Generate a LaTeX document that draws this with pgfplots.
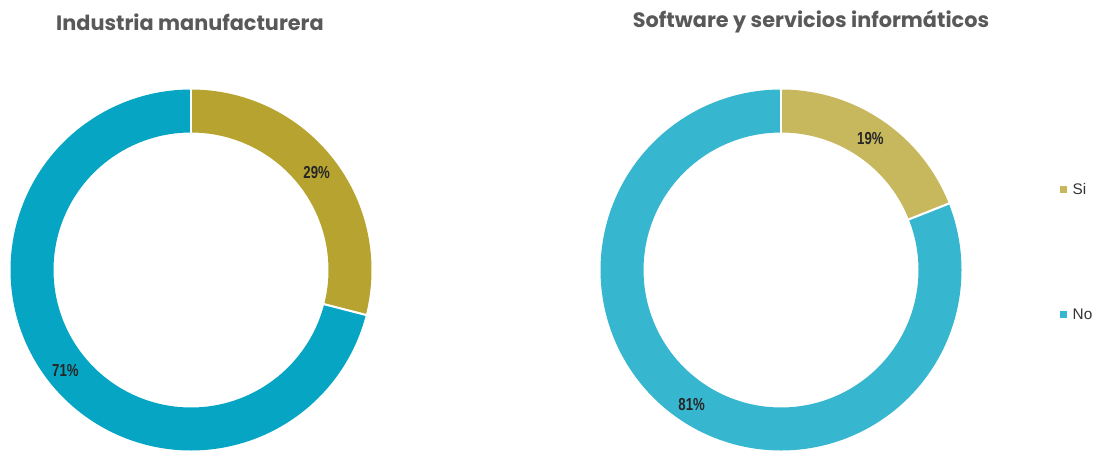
\documentclass[border=0pt]{standalone}
\usepackage{fontspec}
\setmainfont{Liberation Sans}
\newfontfamily\titlefont{Poppins}
\newfontfamily\narrowfont{Liberation Sans}[FakeStretch=0.76]
\usepackage{pgfplots}
\pgfplotsset{compat=1.18}

\definecolor{siA}{HTML}{B7A430}
\definecolor{noA}{HTML}{05A5C3}
\definecolor{siB}{HTML}{C8B85D}
\definecolor{noB}{HTML}{37B6CF}
\definecolor{titlegray}{HTML}{595959}

% share of "Si" answers (%) per sector
\def\siManu{29}
\def\siSoft{19}

\tikzset{
  pct/.style={font=\narrowfont\bfseries\fontsize{13}{13}\selectfont, text=black!85},
  ttl/.style={font=\titlefont\bfseries\fontsize{15.6}{16}\selectfont, text=titlegray},
  leg/.style={font=\fontsize{11.5}{11.5}\selectfont, text=black!80, anchor=west},
}

% #1 centre x, #2 share of Si, #3 colour Si, #4 colour No
\newcommand\donut[4]{%
  \pgfmathsetmacro\aEnd{90-#2*3.6}
  \addplot[#3, line width=32.25pt, domain=90:\aEnd, samples=90] ({#1+159*cos(x)},{270-159*sin(x)});
  \addplot[#4, line width=32.25pt, domain=\aEnd:-270, samples=150] ({#1+159*cos(x)},{270-159*sin(x)});
  \addplot[white, line width=1.6pt, domain=134:184, samples=2] ({#1},{270-x});
  \addplot[white, line width=1.6pt, domain=134:184, samples=2] ({#1+x*cos(\aEnd)},{270-x*sin(\aEnd)});
  \pgfmathsetmacro\mA{90-#2*1.8}
  \pgfmathsetmacro\mB{\aEnd-(100-#2)*1.8}
  \pgfmathsetmacro\lxA{#1+159*cos(\mA)}
  \pgfmathsetmacro\lyA{270-159*sin(\mA)}
  \pgfmathsetmacro\lxB{#1+159*cos(\mB)}
  \pgfmathsetmacro\lyB{270-159*sin(\mB)+3}
  \pgfmathtruncatemacro\noShare{100-#2}
  \edef\tmp{%
    \noexpand\node[pct] at (axis cs:\lxA,\lyA) {#2\noexpand\%};
    \noexpand\node[pct] at (axis cs:\lxB,\lyB) {\noShare\noexpand\%};
  }\tmp
}

\begin{document}
\begin{tikzpicture}
\begin{axis}[
  width=824.25pt, height=337.5pt,
  scale only axis,
  xmin=0, xmax=1099, ymin=0, ymax=450,
  y dir=reverse,
  axis lines=none,
  clip=true,
]
\donut{191}{\siManu}{siA}{noA}
\donut{781}{\siSoft}{siB}{noB}

\node[ttl] at (axis cs:190,22) {Industria manufacturera};
\node[ttl] at (axis cs:811,22) {Software y servicios informáticos};

\addplot[only marks, mark=square*, mark size=2.2pt, color=siB] coordinates {(1063,189)};
\addplot[only marks, mark=square*, mark size=2.2pt, color=noB] coordinates {(1063,314)};
\node[leg] at (axis cs:1068,189) {Si};
\node[leg] at (axis cs:1068,314) {No};
\end{axis}
\path (current axis.south west) rectangle (current axis.north east);
\end{tikzpicture}
\end{document}
